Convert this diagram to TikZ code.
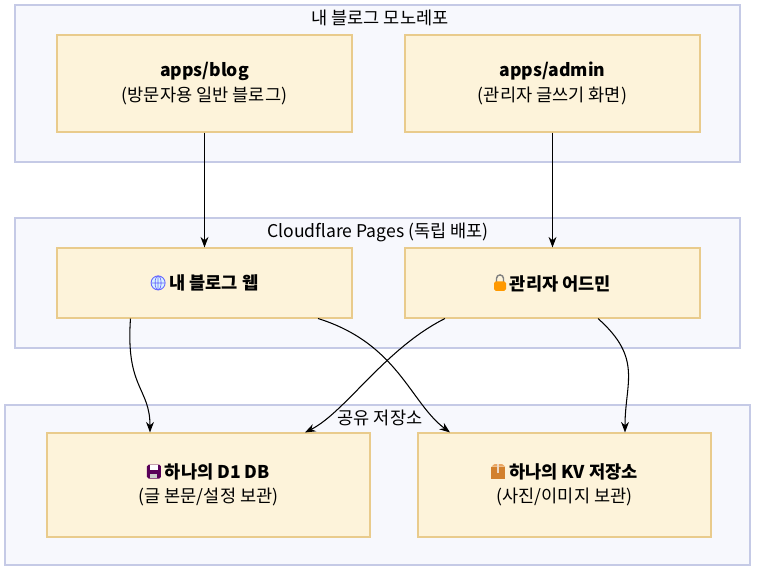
\documentclass[tikz,border=0pt]{standalone}
\usepackage{fontspec}
\setmainfont{Noto Sans CJK KR}
\usetikzlibrary{arrows.meta,positioning}

\definecolor{grpfill}{HTML}{F7F8FD}
\definecolor{grpline}{HTML}{C5CAE6}
\definecolor{boxfill}{HTML}{FDF3DA}
\definecolor{boxline}{HTML}{E9CB8C}

\newcommand\icnGlobe{\tikz[baseline=-0.7ex]{\draw[blue!60,fill=cyan!15,line width=0.5pt] (0,0) circle (0.14); \draw[blue!60,line width=0.4pt] (-0.14,0) -- (0.14,0) (0,-0.14) -- (0,0.14) (0,0) ellipse (0.06 and 0.14);}}
\newcommand\icnLock{\tikz[baseline=-0.7ex]{\draw[gray,line width=0.8pt] (-0.07,0.02) -- (-0.07,0.1) arc (180:0:0.07) -- (0.07,0.02); \fill[orange!80!yellow,rounded corners=1pt] (-0.12,-0.15) rectangle (0.12,0.04);}}
\newcommand\icnDisk{\tikz[baseline=-0.7ex]{\fill[violet!70!black,rounded corners=1pt] (-0.14,-0.14) rectangle (0.14,0.14); \fill[white] (-0.08,0.03) rectangle (0.08,0.13); \fill[gray!40] (-0.07,-0.13) rectangle (0.07,-0.04);}}
\newcommand\icnBox{\tikz[baseline=-0.7ex]{\fill[brown!70!orange] (-0.14,-0.14) rectangle (0.14,0.1); \fill[brown!50!orange!70] (-0.14,0.1) -- (-0.08,0.15) -- (0.08,0.15) -- (0.14,0.1) -- cycle; \fill[brown!30] (-0.02,-0.02) rectangle (0.02,0.15);}}

\tikzset{
  group/.style={draw=grpline, fill=grpfill, line width=0.6pt},
  app/.style={draw=boxline, fill=boxfill, line width=0.6pt, align=center},
  flow/.style={-{Stealth[length=6pt]}, black, line width=0.6pt},
}

\begin{document}
\begin{tikzpicture}
\useasboundingbox (0,0) rectangle (15.18,11.38);
% groups
\draw[group] (0.3,8.14) rectangle (14.8,11.28);
\node (tRepo) at (7.6,11.02) {내 블로그 모노레포};
\draw[group] (0.3,4.42) rectangle (14.8,7.02);
\node (tPages) at (7.56,6.74) {Cloudflare Pages (독립 배포)};
\draw[group] (0.1,0.08) rectangle (15.0,3.28);
\node (tStore) at (7.6,3.02) {공유 저장소};

% apps
\node[app, minimum width=5.9cm, minimum height=1.94cm] (blog) at (4.09,9.71) {\textbf{apps/blog}\\[2pt](방문자용 일반 블로그)};
\node[app, minimum width=5.9cm, minimum height=1.94cm] (admin) at (11.05,9.71) {\textbf{apps/admin}\\[2pt](관리자 글쓰기 화면)};
% deploys
\node[app, minimum width=5.9cm, minimum height=1.4cm] (web) at (4.09,5.72) {\icnGlobe\ \textbf{내 블로그 웹}};
\node[app, minimum width=5.9cm, minimum height=1.4cm] (console) at (11.05,5.72) {\icnLock\ \textbf{관리자 어드민}};
% storage
\node[app, minimum width=6.46cm, minimum height=2.08cm] (d1) at (4.17,1.68) {\icnDisk\ \textbf{하나의 D1 DB}\\[2pt](글 본문/설정 보관)};
\node[app, minimum width=5.86cm, minimum height=2.08cm] (kv) at (11.29,1.68) {\icnBox\ \textbf{하나의 KV 저장소}\\[2pt](사진/이미지 보관)};

% connectors
\draw[flow] (blog.south) .. controls ++(0,-1) and ++(0,1) .. (web.north);
\draw[flow] (admin.south) .. controls ++(0,-1) and ++(0,1) .. (console.north);
\draw[flow] ([xshift=-1.48cm]web.south) .. controls ++(-0.1,-1.4) and ++(0,0.9) .. ([xshift=-1.17cm]d1.north);
\draw[flow] ([xshift=2.27cm]web.south) .. controls ++(1.6,-0.5) and ++(-0.8,0.6) .. ([xshift=-2.29cm]kv.north);
\draw[flow] ([xshift=-2.15cm]console.south) .. controls ++(-1.2,-0.6) and ++(0.8,0.4) .. ([xshift=1.93cm]d1.north);
\draw[flow] ([xshift=0.91cm]console.south) .. controls ++(0.9,-0.8) and ++(0,1) .. ([xshift=1.21cm]kv.north);
\end{tikzpicture}
\end{document}
